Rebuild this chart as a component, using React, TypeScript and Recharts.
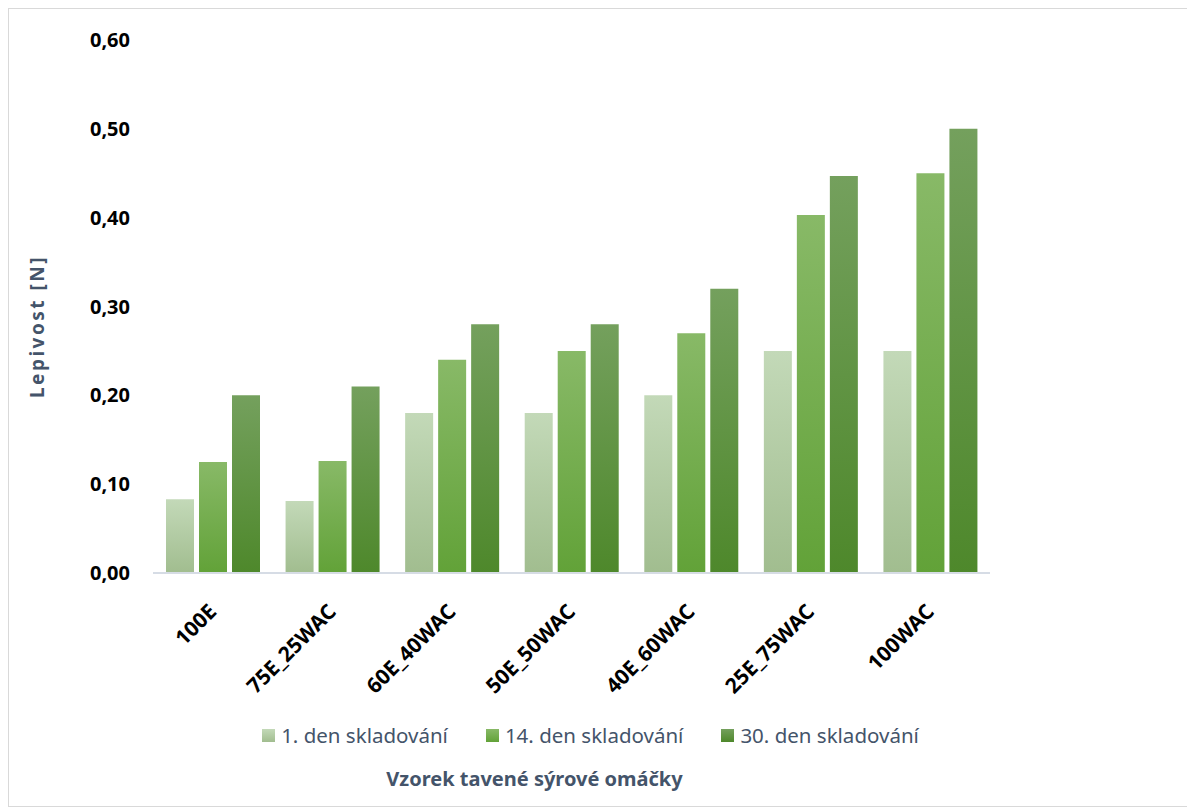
import React from "react";
import { BarChart, Bar, XAxis, YAxis, Legend, Label } from "recharts";

const categories = ["100E", "75E_25WAC", "60E_40WAC", "50E_50WAC", "40E_60WAC", "25E_75WAC", "100WAC"];
const day1 = [0.083, 0.081, 0.18, 0.18, 0.2, 0.25, 0.25];
const day14 = [0.125, 0.126, 0.24, 0.25, 0.27, 0.403, 0.45];
const day30 = [0.2, 0.21, 0.28, 0.28, 0.32, 0.447, 0.5];
const yTicks = [0, 0.1, 0.2, 0.3, 0.4, 0.5, 0.6];
const seriesNames = ["1. den skladování", "14. den skladování", "30. den skladování"];

const rows = categories.map((name, i) => ({ name, d1: day1[i], d14: day14[i], d30: day30[i] }));

const FONT = "'Noto Sans', sans-serif";
const SLATE = "#44546a";

const gradients = [
    { id: "gLight", top: "#c3d9b8", bottom: "#a1bd8f" },
    { id: "gMid", top: "#88b967", bottom: "#62a238" },
    { id: "gDark", top: "#74a05d", bottom: "#4e882b" },
];

const fmt = (v: number) => v.toFixed(2).replace(".", ",");

const RotatedTick = ({ x, y, payload }: any) => (
    <g transform={`translate(${x + 5},${y + 32})`}>
        <text
            x={0}
            y={0}
            textAnchor="end"
            transform="rotate(-45)"
            fontFamily={FONT}
            fontSize={21}
            fontWeight={700}
            fill="#000"
        >
            {payload.value}
        </text>
    </g>
);

const LegendBox = () => (
    <div style={{ display: "flex", justifyContent: "center", gap: 38, fontFamily: FONT, fontSize: 20.5, color: SLATE }}>
        {seriesNames.map((n, i) => (
            <div key={n} style={{ display: "flex", alignItems: "center", gap: 6 }}>
                <span
                    style={{
                        width: 13,
                        height: 13,
                        display: "inline-block",
                        background: `linear-gradient(${gradients[i].top}, ${gradients[i].bottom})`,
                    }}
                />
                <span>{n}</span>
            </div>
        ))}
    </div>
);

export default function App() {
    return (
        <div style={{ width: 1179, height: 797, border: "1px solid #d9d9d9", position: "relative" }}>
            <BarChart
                width={1179}
                height={797}
                data={rows}
                margin={{ top: 31, right: 198, bottom: 0, left: 0 }}
                barSize={28}
                barGap={5}
            >
                <defs>
                    {gradients.map((g) => (
                        <linearGradient key={g.id} id={g.id} x1="0" y1="0" x2="0" y2="1">
                            <stop offset="0%" stopColor={g.top} />
                            <stop offset="100%" stopColor={g.bottom} />
                        </linearGradient>
                    ))}
                </defs>
                <XAxis
                    dataKey="name"
                    height={233}
                    interval={0}
                    tickLine={false}
                    axisLine={{ stroke: "#d6dce5", strokeWidth: 2 }}
                    tick={<RotatedTick />}
                >
                    <Label
                        content={({ viewBox }: any) => (
                            <text
                                x={viewBox.x + viewBox.width / 2 - 37}
                                y={viewBox.y + 213}
                                textAnchor="middle"
                                fontFamily={FONT}
                                fontSize={20}
                                fontWeight={700}
                                fill={SLATE}
                            >
                                Vzorek tavené sýrové omáčky
                            </text>
                        )}
                    />
                </XAxis>
                <YAxis
                    width={144}
                    domain={[0, 0.6]}
                    ticks={yTicks}
                    axisLine={false}
                    tickLine={false}
                    tickMargin={17}
                    tickFormatter={fmt}
                    tick={{ fill: "#000", fontSize: 20, fontWeight: 700, fontFamily: FONT }}
                >
                    <Label
                        content={({ viewBox }: any) => {
                            const cx = viewBox.x + 35;
                            const cy = viewBox.y + viewBox.height / 2 + 20;
                            return (
                                <text
                                    x={cx}
                                    y={cy}
                                    transform={`rotate(-90, ${cx}, ${cy})`}
                                    textAnchor="middle"
                                    fontFamily={FONT}
                                    fontSize={19}
                                    fontWeight={700}
                                    letterSpacing={2.5}
                                    fill={SLATE}
                                >
                                    Lepivost [N]
                                </text>
                            );
                        }}
                    />
                </YAxis>
                <Legend
                    layout="horizontal"
                    verticalAlign="middle"
                    content={<LegendBox />}
                    wrapperStyle={{ top: 712, left: -8, width: 1179 }}
                />
                <Bar dataKey="d1" name={seriesNames[0]} fill="url(#gLight)" isAnimationActive={false} />
                <Bar dataKey="d14" name={seriesNames[1]} fill="url(#gMid)" isAnimationActive={false} />
                <Bar dataKey="d30" name={seriesNames[2]} fill="url(#gDark)" isAnimationActive={false} />
            </BarChart>
        </div>
    );
}
